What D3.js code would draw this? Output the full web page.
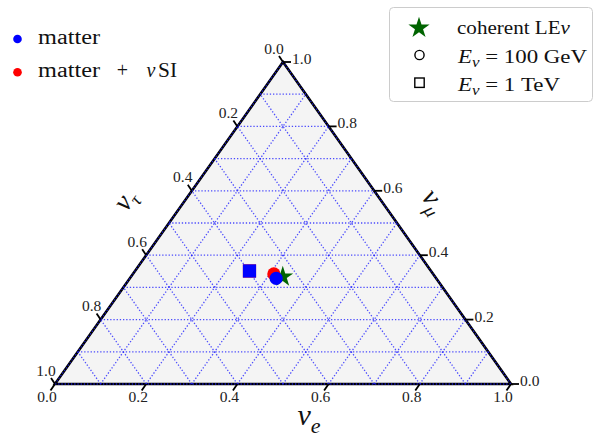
<!DOCTYPE html>
<html><head><meta charset="utf-8">
<script src="https://cdn.jsdelivr.net/npm/d3@7"></script>
<style>body{margin:0;background:#fff} svg{display:block}</style>
</head><body>
<svg id="chart" width="595" height="437"></svg>
<script>
// ---------------- data ----------------
const seriesNames = ["matter", "matter + νSI"];
const energyNames = ["100 GeV", "1 TeV"];
// flavour fractions at Earth, index 0 = 100 GeV (circle), 1 = 1 TeV (square)
const matterE   = [0.321, 0.251];
const matterMu  = [0.328, 0.351];
const matterTau = [0.351, 0.398];
const nsiE      = [0.309, 0.251];
const nsiMu     = [0.342, 0.351];
const nsiTau    = [0.349, 0.398];
const coherentE = [0.333], coherentMu = [0.333], coherentTau = [0.334];
const tickValues = [0.0, 0.2, 0.4, 0.6, 0.8, 1.0];
const tickLabels = ["0.0", "0.2", "0.4", "0.6", "0.8", "1.0"];
const gridValues = [0.0, 0.1, 0.2, 0.3, 0.4, 0.5, 0.6, 0.7, 0.8, 0.9, 1.0];

// ---------------- styles ----------------
const FONT = "'Liberation Serif', 'Times New Roman', serif";
const colMatter = "#0000ff", colNsi = "#ff0000", colStar = "#006400";

const svg = d3.select("#chart");
const sx = d3.scaleLinear().domain([0, 1]).range([55, 511]);
const sy = d3.scaleLinear().domain([0, 1]).range([384, 62]);
// ternary (nu_e, nu_mu) -> screen; nu_tau = 1 - e - mu
const P = (e, mu) => [sx(e + mu / 2), sy(mu)];
const line = d3.line();

// triangle background + boundary
const tri = [P(0, 0), P(1, 0), P(0, 1)];
svg.append("path").attr("d", line(tri) + "Z").attr("fill", "#f4f4f4").attr("stroke", "none");
svg.append("path").attr("d", line(tri) + "Z").attr("fill", "none")
  .attr("stroke", "#000").attr("stroke-width", 2.6).attr("stroke-linejoin", "miter");

// grid
const gridG = svg.append("g").attr("stroke", "#2020ff").attr("stroke-opacity", 0.8)
  .attr("stroke-width", 1.3).attr("stroke-dasharray", "1.3,1.9").attr("fill", "none");
gridValues.forEach(v => {
  gridG.append("path").attr("d", line([P(0, v), P(1 - v, v)]));      // const mu
  gridG.append("path").attr("d", line([P(v, 0), P(v, 1 - v)]));      // const e
  gridG.append("path").attr("d", line([P(1 - v, 0), P(0, 1 - v)]));  // const tau
});

// ticks
const tickG = svg.append("g").attr("stroke", "#000").attr("stroke-width", 1.8);
const labG = svg.append("g").attr("font-family", FONT).attr("font-size", 15.5).attr("fill", "#222");
tickValues.forEach((v, i) => {
  // bottom: nu_e
  let p = P(v, 0);
  tickG.append("path").attr("d", line([p, [p[0] - 4.5, p[1] + 6.5]]));
  labG.append("text").attr("x", p[0] - 8).attr("y", p[1] + 14).attr("text-anchor", "middle")
    .attr("dominant-baseline", "middle").text(tickLabels[i]);
  // left: nu_tau
  p = P(0, 1 - v);
  tickG.append("path").attr("d", line([p, [p[0] - 4, p[1] - 6]]));
  labG.append("text").attr("x", p[0] - 9).attr("y", p[1] - 12).attr("text-anchor", "middle")
    .attr("dominant-baseline", "middle").text(tickLabels[i]);
  // right: nu_mu
  p = P(1 - v, v);
  tickG.append("path").attr("d", line([p, [p[0] + 8, p[1]]]));
  labG.append("text").attr("x", p[0] + 9).attr("y", p[1] - 1.5).attr("text-anchor", "start")
    .attr("dominant-baseline", "middle").text(tickLabels[i]);
});

// axis titles
function nuLabel(g, sub, big, small, dy) {
  const t = g.append("text").attr("font-family", FONT).attr("text-anchor", "middle").attr("fill", "#111");
  t.append("tspan").attr("font-style", "italic").attr("font-size", big).text("ν");
  t.append("tspan").attr("font-style", "italic").attr("font-size", small).attr("dy", dy).text(sub);
  return t;
}
nuLabel(svg.append("g").attr("transform", "translate(309,425)"), "e", 30, 22, 8);
nuLabel(svg.append("g").attr("transform", "translate(132,205) rotate(-54.7)"), "τ", 28, 19, 6);
nuLabel(svg.append("g").attr("transform", "translate(427,206) rotate(54.7)"), "μ", 28, 19, 6);

// data markers
const star = d3.symbol().type(d3.symbolStar).size(135);
function drawSeries(E, MU, col) {
  E.forEach((e, i) => {
    const p = P(e, MU[i]);
    if (i === 0) svg.append("circle").attr("cx", p[0]).attr("cy", p[1]).attr("r", 6.6).attr("fill", col);
    else svg.append("rect").attr("x", p[0] - 6.6).attr("y", p[1] - 6.6).attr("width", 13.2).attr("height", 13.2).attr("fill", col);
  });
}
drawSeries(nsiE, nsiMu, colNsi);
coherentE.forEach((e, i) => {
  const p = P(e, coherentMu[i]);
  svg.append("path").attr("d", star()).attr("transform", `translate(${p[0]},${p[1]})`).attr("fill", colStar);
});
drawSeries(matterE, matterMu, colMatter);

// left legend (series colours)
const legL = svg.append("g").attr("font-family", FONT).attr("font-size", 20).attr("fill", "#111");
[colMatter, colNsi].forEach((c, i) => {
  const y = 39 + i * 33.3;
  legL.append("circle").attr("cx", 17.5).attr("cy", y).attr("r", 4.3).attr("fill", c);
});
legL.append("text").attr("x", 38).attr("y", 44).attr("textLength", 62).attr("lengthAdjust", "spacingAndGlyphs").text(seriesNames[0]);
legL.append("text").attr("x", 38).attr("y", 77).attr("textLength", 62).attr("lengthAdjust", "spacingAndGlyphs").text("matter");
legL.append("text").attr("x", 122.5).attr("y", 77).attr("text-anchor", "middle").text("+");
legL.append("text").attr("x", 146.5).attr("y", 77).attr("font-style", "italic").text("ν");
legL.append("text").attr("x", 158).attr("y", 77).attr("textLength", 19).attr("lengthAdjust", "spacingAndGlyphs").text("SI");

// right legend (markers)
const legR = svg.append("g").attr("font-family", FONT).attr("font-size", 19).attr("fill", "#111");
legR.append("rect").attr("x", 389.5).attr("y", 7.5).attr("width", 203).attr("height", 94).attr("rx", 4)
  .attr("fill", "#fff").attr("fill-opacity", 0.85).attr("stroke", "#cccccc").attr("stroke-width", 1);
legR.append("path").attr("d", d3.symbol().type(d3.symbolStar).size(140)()).attr("transform", "translate(419,28)").attr("fill", colStar);
legR.append("circle").attr("cx", 419.5).attr("cy", 55).attr("r", 4.6).attr("fill", "none").attr("stroke", "#000").attr("stroke-width", 1.4);
legR.append("rect").attr("x", 414.8).attr("y", 78).attr("width", 9.4).attr("height", 9.4).attr("fill", "none").attr("stroke", "#000").attr("stroke-width", 1.4);
const t1 = legR.append("text").attr("x", 457).attr("y", 33.5).attr("textLength", 113).attr("lengthAdjust", "spacingAndGlyphs");
t1.append("tspan").text("coherent LE");
t1.append("tspan").attr("font-style", "italic").text("ν");
const energyWidths = [129, 102];
energyNames.forEach((name, i) => {
  const y = 62.5 + i * 28;
  const t = legR.append("text").attr("x", 458).attr("y", y)
    .attr("textLength", energyWidths[i]).attr("lengthAdjust", "spacingAndGlyphs");
  t.append("tspan").attr("font-style", "italic").text("E");
  t.append("tspan").attr("font-style", "italic").attr("font-size", 14).attr("dy", 4).text("ν");
  t.append("tspan").attr("dy", -4).text(" = " + name);
});
</script>
</body></html>
